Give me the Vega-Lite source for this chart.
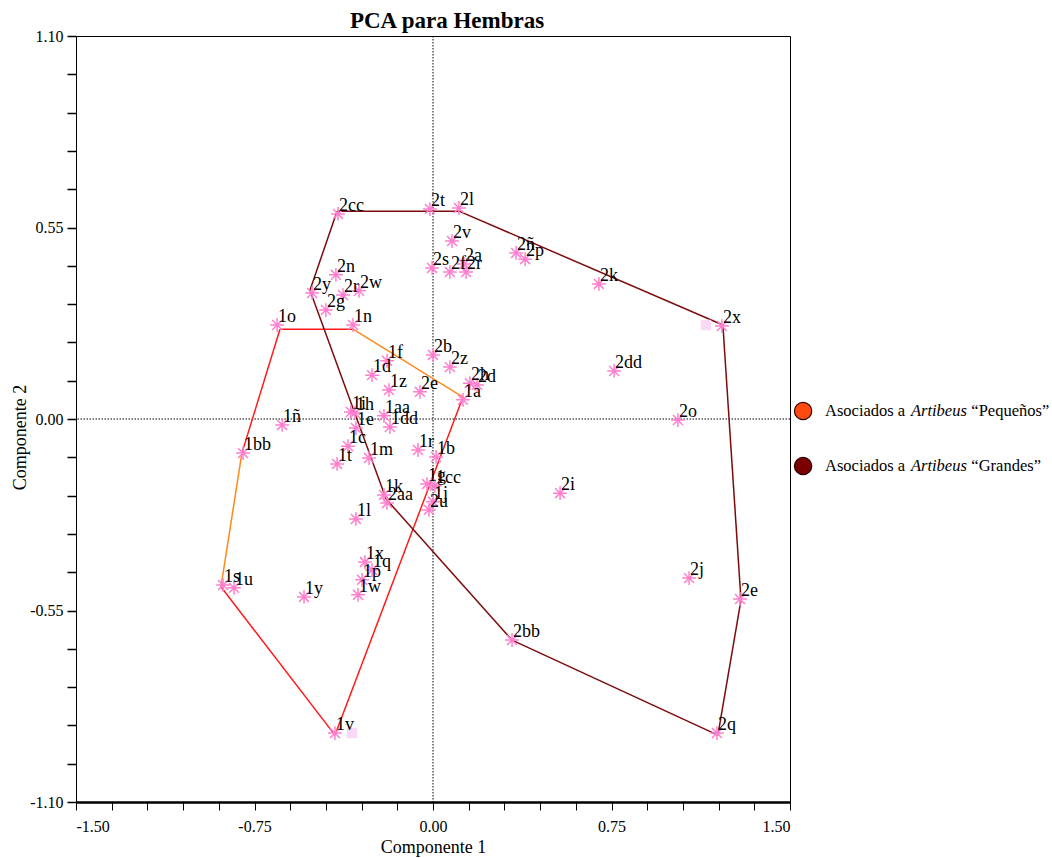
{
  "$schema": "https://vega.github.io/schema/vega-lite/v6.json",
  "autosize": {"type": "none"},
  "padding": {"left": 76, "top": 36, "right": 262, "bottom": 56},
  "width": 714,
  "height": 766,
  "background": "white",
  "title": {
    "text": "PCA para Hembras",
    "font": "Liberation Serif",
    "fontSize": 23,
    "fontWeight": "bold",
    "color": "black",
    "anchor": "middle",
    "dx": 14,
    "dy": 9,
    "offset": 4
  },
  "config": {
    "view": {"stroke": "black", "strokeWidth": 1},
    "axis": {"grid": false}
  },
  "datasets": {
    "puntos": [
      {"id": "2cc", "grupo": "2", "c1": -0.399, "c2": 0.589},
      {"id": "2t", "grupo": "2", "c1": -0.013, "c2": 0.603},
      {"id": "2l", "grupo": "2", "c1": 0.109, "c2": 0.606},
      {"id": "2v", "grupo": "2", "c1": 0.080, "c2": 0.511},
      {"id": "2s", "grupo": "2", "c1": -0.004, "c2": 0.434},
      {"id": "2f", "grupo": "2", "c1": 0.071, "c2": 0.422},
      {"id": "2a", "grupo": "2", "c1": 0.130, "c2": 0.445},
      {"id": "2r", "grupo": "2", "c1": 0.139, "c2": 0.422},
      {"id": "2ñ", "grupo": "2", "c1": 0.349, "c2": 0.477},
      {"id": "2p", "grupo": "2", "c1": 0.387, "c2": 0.459},
      {"id": "2k", "grupo": "2", "c1": 0.697, "c2": 0.388},
      {"id": "2n", "grupo": "2", "c1": -0.408, "c2": 0.414},
      {"id": "2y", "grupo": "2", "c1": -0.508, "c2": 0.362},
      {"id": "2r", "grupo": "2", "c1": -0.378, "c2": 0.356},
      {"id": "2w", "grupo": "2", "c1": -0.311, "c2": 0.368},
      {"id": "2g", "grupo": "2", "c1": -0.450, "c2": 0.313},
      {"id": "2x", "grupo": "2", "c1": 1.214, "c2": 0.267},
      {"id": "2dd", "grupo": "2", "c1": 0.761, "c2": 0.138},
      {"id": "2b", "grupo": "2", "c1": 0.000, "c2": 0.184},
      {"id": "2z", "grupo": "2", "c1": 0.071, "c2": 0.149},
      {"id": "2h", "grupo": "2", "c1": 0.155, "c2": 0.103},
      {"id": "2d", "grupo": "2", "c1": 0.185, "c2": 0.098},
      {"id": "2e", "grupo": "2", "c1": -0.055, "c2": 0.078},
      {"id": "2o", "grupo": "2", "c1": 1.029, "c2": -0.003},
      {"id": "2aa", "grupo": "2", "c1": -0.193, "c2": -0.241},
      {"id": "2u", "grupo": "2", "c1": -0.017, "c2": -0.261},
      {"id": "2i", "grupo": "2", "c1": 0.534, "c2": -0.213},
      {"id": "2j", "grupo": "2", "c1": 1.076, "c2": -0.457},
      {"id": "2e", "grupo": "2", "c1": 1.290, "c2": -0.517},
      {"id": "2bb", "grupo": "2", "c1": 0.332, "c2": -0.635},
      {"id": "2q", "grupo": "2", "c1": 1.193, "c2": -0.902},
      {"id": "1o", "grupo": "1", "c1": -0.655, "c2": 0.270},
      {"id": "1n", "grupo": "1", "c1": -0.336, "c2": 0.270},
      {"id": "1f", "grupo": "1", "c1": -0.193, "c2": 0.167},
      {"id": "1d", "grupo": "1", "c1": -0.256, "c2": 0.126},
      {"id": "1z", "grupo": "1", "c1": -0.185, "c2": 0.083},
      {"id": "1a", "grupo": "1", "c1": 0.126, "c2": 0.055},
      {"id": "1i", "grupo": "1", "c1": -0.345, "c2": 0.020},
      {"id": "1h", "grupo": "1", "c1": -0.328, "c2": 0.017},
      {"id": "1e", "grupo": "1", "c1": -0.324, "c2": -0.026},
      {"id": "1ñ", "grupo": "1", "c1": -0.634, "c2": -0.017},
      {"id": "1aa", "grupo": "1", "c1": -0.206, "c2": 0.009},
      {"id": "1dd", "grupo": "1", "c1": -0.181, "c2": -0.023},
      {"id": "1bb", "grupo": "1", "c1": -0.798, "c2": -0.098},
      {"id": "1c", "grupo": "1", "c1": -0.357, "c2": -0.078},
      {"id": "1t", "grupo": "1", "c1": -0.403, "c2": -0.129},
      {"id": "1m", "grupo": "1", "c1": -0.269, "c2": -0.112},
      {"id": "1r", "grupo": "1", "c1": -0.063, "c2": -0.089},
      {"id": "1b", "grupo": "1", "c1": 0.013, "c2": -0.109},
      {"id": "1g", "grupo": "1", "c1": -0.025, "c2": -0.187},
      {"id": "1cc", "grupo": "1", "c1": 0.008, "c2": -0.192},
      {"id": "1k", "grupo": "1", "c1": -0.206, "c2": -0.218},
      {"id": "1j", "grupo": "1", "c1": 0.000, "c2": -0.238},
      {"id": "1l", "grupo": "1", "c1": -0.324, "c2": -0.287},
      {"id": "1x", "grupo": "1", "c1": -0.286, "c2": -0.411},
      {"id": "1q", "grupo": "1", "c1": -0.256, "c2": -0.434},
      {"id": "1p", "grupo": "1", "c1": -0.298, "c2": -0.462},
      {"id": "1w", "grupo": "1", "c1": -0.315, "c2": -0.505},
      {"id": "1s", "grupo": "1", "c1": -0.882, "c2": -0.477},
      {"id": "1u", "grupo": "1", "c1": -0.836, "c2": -0.485},
      {"id": "1y", "grupo": "1", "c1": -0.542, "c2": -0.511},
      {"id": "1v", "grupo": "1", "c1": -0.412, "c2": -0.902}
    ],
    "envolventes": [
      {"grupo": "1", "tono": "rojo", "c1": -0.643, "c2": 0.258, "c1b": -0.336, "c2b": 0.258},
      {"grupo": "1", "tono": "naranja", "c1": -0.336, "c2": 0.258, "c1b": 0.126, "c2b": 0.063},
      {"grupo": "1", "tono": "rojo", "c1": 0.126, "c2": 0.063, "c1b": -0.412, "c2b": -0.908},
      {"grupo": "1", "tono": "rojo", "c1": -0.412, "c2": -0.908, "c1b": -0.891, "c2b": -0.482},
      {"grupo": "1", "tono": "naranja", "c1": -0.891, "c2": -0.482, "c1b": -0.803, "c2b": -0.098},
      {"grupo": "1", "tono": "rojo", "c1": -0.803, "c2": -0.098, "c1b": -0.643, "c2b": 0.258},
      {"grupo": "2", "tono": "granate", "c1": -0.403, "c2": 0.597, "c1b": 0.109, "c2b": 0.597},
      {"grupo": "2", "tono": "granate", "c1": 0.109, "c2": 0.597, "c1b": 1.218, "c2b": 0.270},
      {"grupo": "2", "tono": "granate", "c1": 1.218, "c2": 0.270, "c1b": 1.294, "c2b": -0.520},
      {"grupo": "2", "tono": "granate", "c1": 1.294, "c2": -0.520, "c1b": 1.197, "c2b": -0.908},
      {"grupo": "2", "tono": "granate", "c1": 1.197, "c2": -0.908, "c1b": 0.332, "c2b": -0.635},
      {"grupo": "2", "tono": "granate", "c1": 0.332, "c2": -0.635, "c1b": -0.197, "c2b": -0.230},
      {"grupo": "2", "tono": "granate", "c1": -0.197, "c2": -0.230, "c1b": -0.517, "c2b": 0.370},
      {"grupo": "2", "tono": "granate", "c1": -0.517, "c2": 0.370, "c1b": -0.403, "c2b": 0.597}
    ],
    "marcas": [
      {"c1": 1.147, "c2": 0.270},
      {"c1": -0.340, "c2": -0.902}
    ],
    "leyenda": [
      {"grupo": "Pequeños", "frase": "Asociados a", "genero": "Artibeus", "talla": "“Pequeños”", "c2": 0.023},
      {"grupo": "Grandes", "frase": "Asociados a", "genero": "Artibeus", "talla": "“Grandes”", "c2": -0.135}
    ]
  },
  "layer": [
    {
      "data": {"values": [{}]},
      "mark": {"type": "rule", "color": "black", "strokeWidth": 1, "strokeDash": [1.5, 1.5]},
      "encoding": {
        "x": {
          "datum": 0,
          "type": "quantitative",
          "scale": {"domain": [-1.5, 1.5], "nice": false, "zero": false},
          "axis": {
            "values": [-1.5, -1.35, -1.2, -1.05, -0.9, -0.75, -0.6, -0.45, -0.3, -0.15, 0, 0.15, 0.3, 0.45, 0.6, 0.75, 0.9, 1.05, 1.2, 1.35, 1.5],
            "tickCount": 40,
            "labelExpr": "(abs(datum.value) < 0.001 || abs(abs(datum.value) - 0.75) < 0.001 || abs(abs(datum.value) - 1.5) < 0.001) ? replace(format(datum.value, '.2f'), '\u2212', '-') : ''",
            "labelOverlap": false,
            "labelFont": "Liberation Serif",
            "labelFontSize": 16,
            "labelColor": "black",
            "labelPadding": 8,
            "tickColor": "black",
            "tickSize": 8,
            "tickWidth": 1,
            "domainColor": "black",
            "domainWidth": 2.5,
            "title": "Componente 1",
            "titleFont": "Liberation Serif",
            "titleFontSize": 18,
            "titleFontWeight": "normal",
            "titleColor": "black",
            "titlePadding": 4
          }
        }
      }
    },
    {
      "data": {"values": [{}]},
      "mark": {"type": "rule", "color": "black", "strokeWidth": 1, "strokeDash": [1.5, 1.5]},
      "encoding": {
        "y": {
          "datum": 0,
          "type": "quantitative",
          "scale": {"domain": [-1.1, 1.1], "nice": false, "zero": false},
          "axis": {
            "values": [-1.1, -0.99, -0.88, -0.77, -0.66, -0.55, -0.44, -0.33, -0.22, -0.11, 0, 0.11, 0.22, 0.33, 0.44, 0.55, 0.66, 0.77, 0.88, 0.99, 1.1],
            "tickCount": 40,
            "labelExpr": "(abs(datum.value) < 0.001 || abs(abs(datum.value) - 0.55) < 0.001 || abs(abs(datum.value) - 1.1) < 0.001) ? replace(format(datum.value, '.2f'), '\u2212', '-') : ''",
            "labelOverlap": false,
            "labelFont": "Liberation Serif",
            "labelFontSize": 16,
            "labelColor": "black",
            "labelPadding": 4,
            "tickColor": "black",
            "tickSize": 9,
            "tickWidth": 1.5,
            "domainColor": "black",
            "domainWidth": 1,
            "title": "Componente 2",
            "titleFont": "Liberation Serif",
            "titleFontSize": 18,
            "titleFontWeight": "normal",
            "titleColor": "black",
            "titleBaseline": "alphabetic",
            "titleX": -51,
            "titleY": 401
          }
        }
      }
    },
    {
      "data": {"name": "envolventes"},
      "mark": {"type": "rule", "strokeWidth": 1.5},
      "encoding": {
        "x": {"field": "c1", "type": "quantitative"},
        "y": {"field": "c2", "type": "quantitative"},
        "x2": {"field": "c1b"},
        "y2": {"field": "c2b"},
        "color": {
          "field": "tono",
          "type": "nominal",
          "scale": {"domain": ["rojo", "naranja", "granate"], "range": ["#ff1a1a", "#ff8a1c", "#7d0b0b"]},
          "legend": null
        }
      }
    },
    {
      "data": {"name": "marcas"},
      "mark": {"type": "point", "shape": "square", "filled": true, "size": 110, "color": "#fbd9f6", "opacity": 1},
      "encoding": {
        "x": {"field": "c1", "type": "quantitative"},
        "y": {"field": "c2", "type": "quantitative"}
      }
    },
    {
      "data": {"name": "puntos"},
      "mark": {
        "type": "point",
        "shape": "M-1,0H1M0,-1V1M-0.72,-0.72L0.72,0.72M-0.72,0.72L0.72,-0.72",
        "filled": false,
        "size": 190,
        "stroke": "#ff7fcf",
        "strokeWidth": 1.5,
        "opacity": 1
      },
      "encoding": {
        "x": {"field": "c1", "type": "quantitative"},
        "y": {"field": "c2", "type": "quantitative"}
      }
    },
    {
      "data": {"name": "puntos"},
      "mark": {
        "type": "text",
        "align": "left",
        "baseline": "alphabetic",
        "dx": 1,
        "dy": -3,
        "font": "Liberation Serif",
        "fontSize": 18,
        "color": "black"
      },
      "encoding": {
        "x": {"field": "c1", "type": "quantitative"},
        "y": {"field": "c2", "type": "quantitative"},
        "text": {"field": "id"}
      }
    },
    {
      "data": {"name": "leyenda"},
      "mark": {"type": "point", "shape": "circle", "filled": true, "size": 300, "stroke": "#300000", "strokeWidth": 1.2, "opacity": 1},
      "encoding": {
        "x": {"datum": 1.555, "type": "quantitative"},
        "y": {"field": "c2", "type": "quantitative"},
        "fill": {
          "field": "grupo",
          "type": "nominal",
          "scale": {"domain": ["Pequeños", "Grandes"], "range": ["#ff4a12", "#7a0000"]},
          "legend": null
        }
      }
    },
    {
      "data": {"name": "leyenda"},
      "mark": {"type": "text", "align": "left", "baseline": "middle", "font": "Liberation Serif", "fontSize": 16.5, "color": "black"},
      "encoding": {
        "x": {"datum": 1.647, "type": "quantitative"},
        "y": {"field": "c2", "type": "quantitative"},
        "text": {"field": "frase"}
      }
    },
    {
      "data": {"name": "leyenda"},
      "mark": {"type": "text", "align": "left", "baseline": "middle", "font": "Liberation Serif", "fontSize": 16.5, "fontStyle": "italic", "color": "black"},
      "encoding": {
        "x": {"datum": 2.008, "type": "quantitative"},
        "y": {"field": "c2", "type": "quantitative"},
        "text": {"field": "genero"}
      }
    },
    {
      "data": {"name": "leyenda"},
      "mark": {"type": "text", "align": "left", "baseline": "middle", "font": "Liberation Serif", "fontSize": 16.5, "color": "black"},
      "encoding": {
        "x": {"datum": 2.262, "type": "quantitative"},
        "y": {"field": "c2", "type": "quantitative"},
        "text": {"field": "talla"}
      }
    }
  ]
}
